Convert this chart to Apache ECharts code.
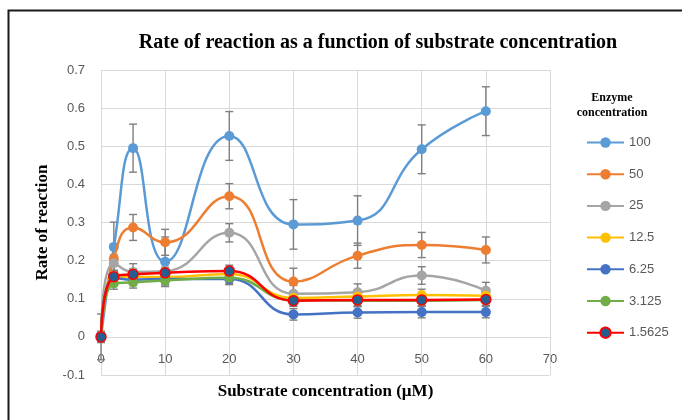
<!DOCTYPE html>
<html>
<head>
<meta charset="utf-8">
<script src="https://cdn.jsdelivr.net/npm/echarts@6/dist/echarts.min.js"></script>
<style>html,body{margin:0;padding:0;background:#fff;}#c{width:682px;height:420px;}</style>
</head>
<body>
<div id="c"></div>
<script>
// ---- data ----
const substrate = [0, 2, 5, 10, 20, 30, 40, 50, 60];
const seriesNames = ['100', '50', '25', '12.5', '6.25', '3.125', '1.5625'];
const rate100    = [0, 0.236, 0.495, 0.197, 0.527, 0.295, 0.305, 0.492, 0.592];
const rate50     = [0, 0.205, 0.287, 0.248, 0.369, 0.145, 0.213, 0.241, 0.228];
const rate25     = [0, 0.193, 0.170, 0.172, 0.273, 0.113, 0.117, 0.161, 0.121];
const rate12_5   = [0, 0.160, 0.157, 0.157, 0.165, 0.102, 0.106, 0.110, 0.108];
const rate6_25   = [0, 0.155, 0.150, 0.152, 0.152, 0.059, 0.064, 0.065, 0.065];
const rate3_125  = [0, 0.140, 0.143, 0.148, 0.155, 0.096, 0.095, 0.095, 0.097];
const rate1_5625 = [0, 0.158, 0.164, 0.168, 0.173, 0.095, 0.097, 0.097, 0.098];
const err100    = [0.060, 0.065, 0.063, 0.065, 0.064, 0.065, 0.065, 0.064, 0.064];
const err50     = [0.015, 0.034, 0.034, 0.034, 0.033, 0.035, 0.033, 0.033, 0.034];
const err25     = [0.010, 0.022, 0.022, 0.022, 0.024, 0.022, 0.022, 0.023, 0.022];
const err12_5   = [0.010, 0.015, 0.015, 0.015, 0.015, 0.015, 0.015, 0.015, 0.015];
const err6_25   = [0.010, 0.015, 0.015, 0.015, 0.015, 0.015, 0.015, 0.015, 0.015];
const err3_125  = [0.010, 0.015, 0.015, 0.015, 0.015, 0.015, 0.015, 0.015, 0.015];
const err1_5625 = [0.010, 0.015, 0.015, 0.015, 0.015, 0.015, 0.015, 0.015, 0.015];
const xTicks = [0, 10, 20, 30, 40, 50, 60, 70];
const yTicks = [-0.1, 0, 0.1, 0.2, 0.3, 0.4, 0.5, 0.6, 0.7];

const allRates = [rate100, rate50, rate25, rate12_5, rate6_25, rate3_125, rate1_5625];
const allErrs = [err100, err50, err25, err12_5, err6_25, err3_125, err1_5625];
const lineColors = ['#5B9BD5', '#ED7D31', '#A5A5A5', '#FFC000', '#4472C4', '#70AD47', '#FF0000'];
const markerColors = ['#5B9BD5', '#ED7D31', '#A5A5A5', '#FFC000', '#4472C4', '#70AD47', '#255E91'];

const chart = echarts.init(document.getElementById('c'), null, {renderer: 'canvas'});

const series = [];
// error bars first (under lines)
allRates.forEach((r, i) => {
  series.push({
    type: 'custom',
    name: 'err_' + seriesNames[i],
    z: 2,
    silent: true,
    data: substrate.map((x, k) => [x, r[k], allErrs[i][k]]),
    renderItem: function (params, api) {
      const x = api.value(0), y = api.value(1), e = api.value(2);
      const t = api.coord([x, y + e]);
      const b = api.coord([x, y - e]);
      const hw = 4;
      const st = {stroke: '#7F7F7F', lineWidth: 1.4};
      return {
        type: 'group',
        children: [
          {type: 'line', shape: {x1: t[0], y1: t[1], x2: b[0], y2: b[1]}, style: st},
          {type: 'line', shape: {x1: t[0] - hw, y1: t[1], x2: t[0] + hw, y2: t[1]}, style: st},
          {type: 'line', shape: {x1: b[0] - hw, y1: b[1], x2: b[0] + hw, y2: b[1]}, style: st}
        ]
      };
    }
  });
});
allRates.forEach((r, i) => {
  series.push({
    type: 'line',
    name: seriesNames[i],
    z: 3 + i,
    smooth: 0.5,
    symbol: 'circle',
    symbolSize: 10,
    data: substrate.map((x, k) => [x, r[k]]),
    lineStyle: {color: lineColors[i], width: 2.5},
    itemStyle: {
      color: markerColors[i],
      borderColor: i === 6 ? '#FF0000' : markerColors[i],
      borderWidth: i === 6 ? 1.5 : 0
    },
    emphasis: {disabled: true}
  });
});

const labelStyle = {color: '#595959', fontSize: 13, fontFamily: 'Liberation Sans'};
const nameStyle = {color: '#000', fontSize: 17, fontWeight: 'bold', fontFamily: 'Liberation Serif'};

chart.setOption({
  animation: false,
  backgroundColor: '#fff',
  grid: {left: 101, right: 132, top: 70, bottom: 45, containLabel: false, outerBoundsMode: 'none'},
  xAxis: {
    type: 'value',
    min: xTicks[0], max: xTicks[xTicks.length - 1], interval: 10,
    axisLine: {show: false, onZero: false},
    axisTick: {show: false},
    axisLabel: Object.assign({margin: -22}, labelStyle),
    splitLine: {show: true, lineStyle: {color: '#D9D9D9', width: 1}},
    name: 'Substrate concentration (µM)',
    nameLocation: 'middle',
    nameGap: 8,
    nameTextStyle: nameStyle
  },
  yAxis: {
    type: 'value',
    min: yTicks[0], max: yTicks[yTicks.length - 1], interval: 0.1,
    axisLine: {show: false, onZero: false},
    axisTick: {show: false},
    axisLabel: Object.assign({margin: 16, formatter: v => String(Math.round(v * 10) / 10)}, labelStyle),
    splitLine: {show: true, lineStyle: {color: '#D9D9D9', width: 1}},
    name: 'Rate of reaction',
    nameLocation: 'middle',
    nameGap: 50,
    nameTextStyle: nameStyle
  },
  legend: {
    data: seriesNames,
    orient: 'vertical',
    left: 581,
    top: 131,
    itemWidth: 37,
    itemHeight: 13,
    itemGap: 18.7,
    textStyle: labelStyle,
    selectedMode: false
  },
  graphic: [
    {type: 'rect', left: 6, top: 8, shape: {width: 700, height: 430}, style: {fill: 'none', stroke: '#1a1a1a', lineWidth: 2}, silent: true},
    {type: 'text', x: 378, y: 43, style: {text: 'Rate of reaction as a function of substrate concentration', fill: '#000', font: 'bold 20px "Liberation Serif"', textAlign: 'center', textVerticalAlign: 'middle'}},
    {type: 'text', x: 612, y: 105, style: {text: 'Enzyme\nconcentration', fill: '#000', font: 'bold 12px "Liberation Serif"', textAlign: 'center', textVerticalAlign: 'middle', lineHeight: 15}}
  ],
  series: series
});
</script>
</body>
</html>
